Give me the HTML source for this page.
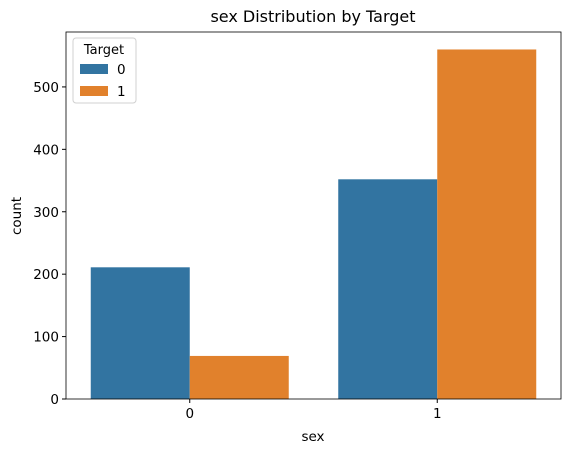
<!DOCTYPE html>
<html><head><meta charset="utf-8"><style>
body{margin:0;background:#fff;font-family:"Liberation Sans","DejaVu Sans",sans-serif;}
</style></head><body>
<svg id="chart" width="571" height="453" xmlns="http://www.w3.org/2000/svg" font-family="DejaVu Sans, Liberation Sans, sans-serif">
<text x="313" y="22" font-size="16" text-anchor="middle">sex Distribution by Target</text>
<g id="bars"></g>
<g id="axes"></g>
<text x="313" y="441" font-size="13.5" text-anchor="middle">sex</text>
<text transform="translate(21,216) rotate(-90)" font-size="13.5" text-anchor="middle">count</text>
<g>
<rect x="73" y="38" width="63" height="65" rx="3" fill="#fff" stroke="#ccc" opacity="0.9"/>
<text x="104" y="54" font-size="13" text-anchor="middle">Target</text>
<rect x="80" y="64" width="28" height="10" fill="#3274a1"/>
<text x="117" y="74" font-size="13.5">0</text>
<rect x="80" y="86" width="28" height="10" fill="#e1812c"/>
<text x="117" y="96" font-size="13.5">1</text>
</g>
</svg>
<script>
const categories = ["0", "1"];
const target0 = [211, 352];
const target1 = [69, 560];
const yTicks = [0, 100, 200, 300, 400, 500];
const L=66,R=561,T=32,B=399,YMAX=588;
const NS="http://www.w3.org/2000/svg";
function y(v){return B-(v/YMAX)*(B-T);}
function xc(i){return L+(i+0.5)*(R-L)/categories.length;}
const bw=0.4*(R-L)/categories.length;
const bars=document.getElementById('bars'), axes=document.getElementById('axes');
function mk(tag,attrs,parent){const e=document.createElementNS(NS,tag);for(const k in attrs)e.setAttribute(k,attrs[k]);parent.appendChild(e);return e;}
categories.forEach((c,i)=>{
  const r0=mk('rect',{x:xc(i)-bw,y:y(target0[i]),width:bw,height:B-y(target0[i]),fill:'#3274a1'},bars);
  
  
  const r1=mk('rect',{x:xc(i),y:y(target1[i]),width:bw,height:B-y(target1[i]),fill:'#e1812c'},bars);
  
  
  mk('line',{x1:xc(i),x2:xc(i),y1:B,y2:B+4,stroke:'#000'},axes);
  const t=mk('text',{x:xc(i),y:B+19,'font-size':13.5,'text-anchor':'middle'},axes);
  t.textContent=c;
  
  
});
yTicks.forEach(v=>{
  mk('line',{x1:L-4,x2:L,y1:y(v),y2:y(v),stroke:'#000'},axes);
  const t=mk('text',{x:L-7,y:y(v)+5,'font-size':13.5,'text-anchor':'end'},axes);
  t.textContent=v;
  
  
});
const frame=mk('rect',{x:L,y:T,width:R-L,height:B-T,fill:'none',stroke:'#000','stroke-width':0.8},axes);


</script>
</body></html>
